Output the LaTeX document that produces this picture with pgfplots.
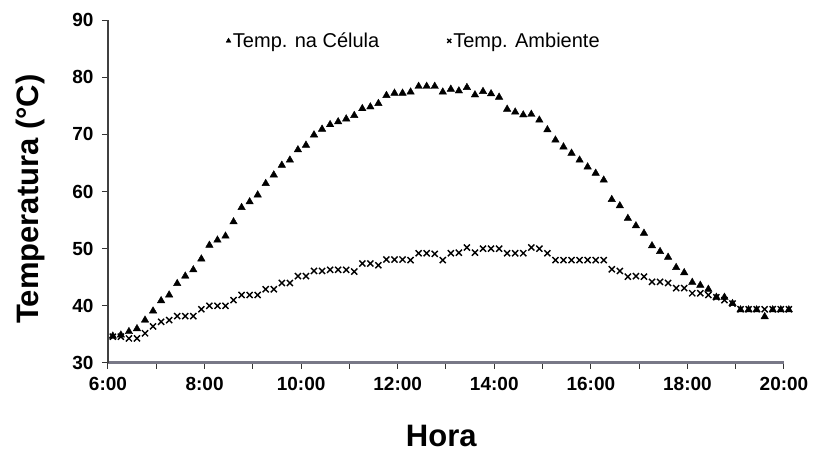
\documentclass[border=0pt]{standalone}
\usepackage{pgfplots}
\pgfplotsset{compat=1.18}
\usepackage{pgfplotstable}
\usepackage{fontspec}
\setmainfont{Liberation Sans}
\definecolor{axgray}{RGB}{120,120,135}

\pgfplotstableread{
t cell amb
366 34.7 34.6
376 34.9 34.6
386 35.5 34.3
396 36.0 34.3
406 37.5 35.2
416 39.1 36.4
426 40.9 37.2
436 41.9 37.5
446 43.9 38.2
456 45.2 38.2
466 46.3 38.2
476 48.2 39.4
486 50.6 40.0
496 51.5 40.0
506 52.2 40.0
516 54.7 41.0
526 57.2 41.9
536 58.2 41.9
546 59.4 41.9
556 61.4 42.9
566 62.9 42.9
576 64.6 44.0
586 65.5 44.0
596 67.3 45.2
606 68.1 45.2
616 69.9 46.1
626 70.9 46.1
636 71.7 46.3
646 72.2 46.3
656 72.7 46.3
666 73.3 46.0
676 74.5 47.4
686 74.8 47.4
696 75.4 47.1
706 76.8 48.1
716 77.2 48.1
726 77.2 48.1
736 77.4 48.0
746 78.4 49.2
756 78.4 49.2
766 78.4 49.1
776 77.4 48.0
786 77.9 49.2
796 77.6 49.3
806 78.2 50.2
816 76.9 49.3
826 77.5 50.0
836 77.1 50.0
846 76.5 50.0
856 74.4 49.2
866 73.9 49.2
876 73.4 49.2
886 73.5 50.2
896 72.5 50.0
906 70.8 49.2
916 69.0 48.0
926 67.8 48.0
936 66.7 48.0
946 65.5 48.0
956 64.3 48.0
966 63.2 48.0
976 62.0 48.0
986 58.6 46.4
996 57.5 46.1
1006 55.3 45.1
1016 54.0 45.2
1026 52.7 45.1
1036 50.5 44.2
1046 49.5 44.2
1056 48.5 44.0
1066 46.7 43.1
1076 45.8 43.1
1086 44.1 42.2
1096 43.6 42.2
1106 42.9 41.9
1116 41.5 41.5
1126 41.5 41.0
1136 40.4 40.4
1146 39.3 39.4
1156 39.3 39.4
1166 39.3 39.4
1176 38.1 39.4
1186 39.3 39.4
1196 39.3 39.4
1206 39.3 39.4
}\datatable

\begin{document}
\begin{tikzpicture}
\path[use as bounding box] (-108pt,-92pt) rectangle (712pt,363pt);
\begin{axis}[
  at={(0pt,0pt)}, anchor=south west,
  scale only axis, width=676pt, height=343pt,
  xmin=360, xmax=1200, ymin=30, ymax=90,
  axis lines*=left,
  clip=false,
  xtick={360,420,...,1200},
  xticklabels={6:00,,8:00,,10:00,,12:00,,14:00,,16:00,,18:00,,20:00},
  ytick={30,40,...,90},
  tick align=outside,
  major tick length=6pt,
  tick style={black!80, line width=1pt},
  x axis line style={line width=3pt, color=axgray},
  y axis line style={line width=1.3pt, color=black!75},
  ticklabel style={font=\fontsize{19}{19}\selectfont\bfseries},
  xticklabel style={yshift=-5pt},
  yticklabel style={xshift=-5pt},
  /pgf/number format/assume math mode=true,
  xlabel={Hora},
  ylabel={Temperatura (°C)},
  label style={font=\fontsize{31}{31}\selectfont\bfseries},
  xlabel style={at={(axis description cs:0.493,-0.213)}, anchor=center},
  ylabel style={at={(axis description cs:-0.115,0.478)}, anchor=center},
  legend style={at={(axis description cs:0.17,0.975)}, anchor=north west,
    draw=none, fill=none, font=\fontsize{20}{20}\selectfont,
    legend columns=2,
    /tikz/every even column/.append style={column sep=66pt}},
  legend image code/.code={\draw[mark repeat=2,mark phase=2,#1,mark size=2.8pt] plot coordinates {(0pt,0pt)(4pt,0pt)(8pt,0pt)};},
]
\addplot[only marks, mark=triangle*, mark size=4.3pt, black, mark options={fill=black}] table[x=t,y=cell] {\datatable};
\addlegendentry{Temp. na Célula}
\addplot[only marks, mark=x, mark size=4.3pt, black, line width=1.4pt] table[x=t,y=amb] {\datatable};
\addlegendentry{Temp. Ambiente}
\end{axis}
\end{tikzpicture}
\end{document}
